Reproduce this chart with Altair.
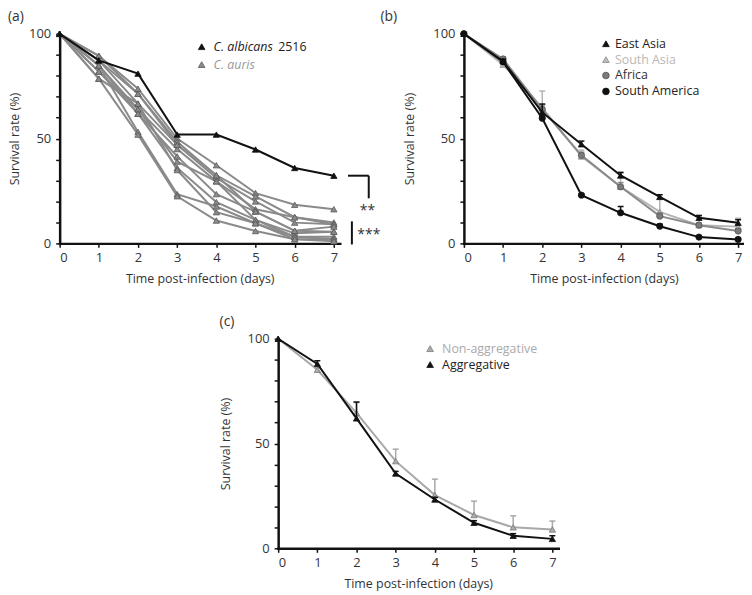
import altair as alt
import pandas as pd

# ---------------- data ----------------
days = [0, 1, 2, 3, 4, 5, 6, 7]

# panel (a)
albicans_2516 = [100, 87.3, 81.0, 51.9, 51.9, 44.8, 36.0, 32.3]
auris_strains = [
    [100, 89.5, 73.8, 50.0, 37.3, 24.0, 18.4, 16.3],
    [100, 89.5, 71.4, 48.5, 32.5, 22.4, 12.5, 10.0],
    [100, 87.3, 66.7, 47.0, 31.2, 20.0, 9.9, 9.1],
    [100, 84.9, 64.0, 45.0, 29.6, 16.3, 12.5, 9.1],
    [100, 84.9, 61.9, 41.5, 23.5, 15.2, 6.0, 8.0],
    [100, 82.0, 64.0, 39.0, 29.6, 11.2, 4.8, 5.6],
    [100, 82.0, 61.9, 36.0, 19.7, 11.2, 3.2, 3.2],
    [100, 78.6, 66.7, 35.0, 14.9, 9.6, 2.0, 2.0],
    [100, 84.9, 53.2, 23.5, 17.6, 9.6, 3.2, 2.0],
    [100, 78.6, 51.9, 22.5, 10.9, 5.9, 2.0, 1.0],
    [100, 87.3, 71.4, 47.0, 32.5, 15.2, 6.0, 5.6],
]

# panel (b)
east_asia = [100, 86.9, 62.5, 47.3, 32.4, 22.2, 12.2, 9.8]
east_asia_err = [0, 1.0, 4.0, 1.5, 1.5, 1.0, 1.0, 1.5]
south_asia = [100, 85.3, 64.7, 41.5, 27.0, 15.0, 8.7, 8.0]
south_asia_err = [0, 1.0, 8.0, 3.0, 6.5, 6.0, 5.0, 4.0]
africa = [100, 88.0, 64.0, 42.0, 27.0, 13.0, 8.7, 5.9]
africa_err = [0, 1.0, 2.0, 1.5, 2.0, 1.5, 1.0, 1.0]
south_america = [100, 86.6, 59.7, 23.0, 14.6, 8.2, 3.0, 1.9]
south_america_err = [0, 0.5, 1.0, 0.5, 3.0, 1.0, 0.5, 0.5]

# panel (c)
non_aggregative = [100, 85.2, 64.6, 41.6, 25.4, 15.9, 10.0, 9.0]
non_aggregative_err = [0, 1.0, 5.0, 5.7, 7.6, 6.6, 5.5, 4.0]
aggregative = [100, 88.0, 62.0, 35.7, 23.3, 12.2, 6.0, 4.5]
aggregative_err = [0, 1.5, 7.8, 1.0, 1.0, 1.0, 1.0, 1.5]

# ---------------- styling ----------------
FONT = "Open Sans"
W, H = 282, 211
X_DOMAIN = [0, 7.15]
ONE = pd.DataFrame({"k": [0]})
BLACK = "#111111"


def axes(title_x):
    xa = alt.Axis(values=days, title="Time post-infection (days)",
                  titlePadding=8, labelPadding=4)
    ya = alt.Axis(values=list(range(0, 101, 10)),
                  labelExpr="datum.value % 50 == 0 ? datum.label : ''",
                  title="Survival rate (%)", titleX=title_x, titleY=H / 2,
                  titleAngle=-90, titleBaseline="middle", titleAlign="center",
                  labelPadding=5)
    return xa, ya


def xy(xa, ya, yfield="value", xfield="day"):
    return dict(
        x=alt.X(f"{xfield}:Q", scale=alt.Scale(domain=X_DOMAIN, nice=False, zero=False), axis=xa),
        y=alt.Y(f"{yfield}:Q", scale=alt.Scale(domain=[0, 100], nice=False), axis=ya),
    )


def frame(values, errs=None, name="s"):
    d = pd.DataFrame({"day": days, "value": values, "series": name})
    if errs is not None:
        d["err"] = errs
        d["top"] = d["value"] + d["err"]
    return d


def series(df, xa, ya, line_color, fill, stroke, shape, err_color=None):
    layers = []
    if "err" in df.columns:
        e = df[df["err"] > 0]
        ec = err_color or line_color
        layers.append(alt.Chart(e).mark_rule(color=ec, strokeWidth=1.5).encode(
            **xy(xa, ya), y2=alt.Y2("top:Q")))
        enc = xy(xa, ya, yfield="top")
        layers.append(alt.Chart(e).mark_rule(color=ec, strokeWidth=1.5, xOffset=-3, x2Offset=3).encode(
            **enc, x2=alt.X2("day:Q")))
    layers.append(alt.Chart(df).mark_line(color=line_color, strokeWidth=2).encode(
        **xy(xa, ya), detail="series:N"))
    layers.append(alt.Chart(df).mark_point(shape=shape, filled=True, color=fill, stroke=stroke,
                                           strokeWidth=0.8, size=40, opacity=1).encode(**xy(xa, ya)))
    return layers


def txt(s, x, y, color, size=12.5, style="normal", align="left", baseline="middle"):
    return alt.Chart(ONE).mark_text(text=s, font=FONT, fontSize=size, fontStyle=style, color=color,
                                    align=align, baseline=baseline).encode(
        x=alt.value(x), y=alt.value(y))


def sym(shape, fill, stroke, x, y):
    return alt.Chart(ONE).mark_point(shape=shape, filled=True, color=fill, stroke=stroke,
                                     strokeWidth=0.8, size=45, opacity=1).encode(
        x=alt.value(x), y=alt.value(y))


# ---------------- panel (a) ----------------
xa, ya = axes(-45)
auris_df = pd.concat([frame(v, name=f"auris{i}") for i, v in enumerate(auris_strains)])
alb_df = frame(albicans_2516, name="albicans")
la = []
la += series(auris_df, xa, ya, "#8a8a8a", "#8c8c8c", "#5a5a5a", "triangle-up")
la += series(alb_df, xa, ya, BLACK, BLACK, BLACK, "triangle-up")
# significance brackets (in data units)
br_h = pd.DataFrame({"day": [7.36], "day2": [7.89], "value": [32.3]})
br_v = pd.DataFrame({"day": [7.89], "value": [32.3], "value2": [21.5]})
bar3 = pd.DataFrame({"day": [7.46], "value": [10.5], "value2": [-0.5]})
la.append(alt.Chart(br_h).mark_rule(color=BLACK, strokeWidth=2).encode(**xy(xa, ya), x2=alt.X2("day2:Q")))
la.append(alt.Chart(br_v).mark_rule(color=BLACK, strokeWidth=2).encode(**xy(xa, ya), y2=alt.Y2("value2:Q")))
la.append(alt.Chart(bar3).mark_rule(color=BLACK, strokeWidth=2).encode(**xy(xa, ya), y2=alt.Y2("value2:Q")))
la.append(alt.Chart(pd.DataFrame({"day": [7.66], "value": [15.5]})).mark_text(
    text="**", font=FONT, fontSize=14, color="#333", align="left", baseline="middle").encode(**xy(xa, ya)))
la.append(alt.Chart(pd.DataFrame({"day": [7.6], "value": [4.0]})).mark_text(
    text="***", font=FONT, fontSize=14, color="#333", align="left", baseline="middle").encode(**xy(xa, ya)))
# legend
la += [sym("triangle-up", BLACK, BLACK, 143, 13),
       txt("C. albicans", 155, 13, "#222", style="italic"),
       txt("2516", 220, 13, "#222"),
       sym("triangle-up", "#8c8c8c", "#5a5a5a", 143, 31),
       txt("C. auris", 155, 31, "#999999", style="italic"),
       txt("(a)", -52, -24, "#333", size=14, baseline="top")]
panel_a = alt.layer(*la).properties(width=W, height=H)

# ---------------- panel (b) ----------------
xb, yb = axes(-55)
lb = []
lb += series(frame(south_asia, south_asia_err, "sa"), xb, yb, "#b4b4b4", "#bdbdbd", "#8a8a8a", "triangle-up")
lb += series(frame(africa, africa_err, "af"), xb, yb, "#8a8a8a", "#7a7a7a", "#555555", "circle")
lb += series(frame(south_america, south_america_err, "sam"), xb, yb, BLACK, BLACK, BLACK, "circle")
lb += series(frame(east_asia, east_asia_err, "ea"), xb, yb, BLACK, BLACK, BLACK, "triangle-up")
lb += [sym("triangle-up", BLACK, BLACK, 143, 10), txt("East Asia", 152, 10, "#222"),
       sym("triangle-up", "#bdbdbd", "#8a8a8a", 143, 26), txt("South Asia", 152, 26, "#b8b8b8"),
       sym("circle", "#7a7a7a", "#555555", 143, 42), txt("Africa", 152, 42, "#333"),
       sym("circle", BLACK, BLACK, 143, 58), txt("South America", 152, 58, "#222"),
       txt("(b)", -84, -24, "#333", size=14, baseline="top")]
panel_b = alt.layer(*lb).properties(width=W, height=H)

# ---------------- panel (c) ----------------
xc, yc = axes(-53)
lc = []
lc += series(frame(non_aggregative, non_aggregative_err, "na"), xc, yc, "#a8a8a8", "#ababab", "#7a7a7a", "triangle-up")
lc += series(frame(aggregative, aggregative_err, "ag"), xc, yc, BLACK, BLACK, BLACK, "triangle-up")
lc += [sym("triangle-up", "#ababab", "#7a7a7a", 153, 10), txt("Non-aggregative", 165, 10, "#aaaaaa"),
       sym("triangle-up", BLACK, BLACK, 153, 26), txt("Aggregative", 165, 26, "#222"),
       txt("(c)", -59, -24, "#333", size=14, baseline="top")]
panel_c = alt.layer(*lc).properties(width=W, height=H)

spacer = alt.Chart(ONE).mark_point(opacity=0).encode(x=alt.value(0), y=alt.value(0)).properties(width=200, height=H)

top = alt.hconcat(panel_a, panel_b, spacing=125, bounds="flush")
bottom = alt.hconcat(spacer, panel_c, spacing=20, bounds="flush")
chart = alt.vconcat(top, bottom, spacing=30).properties(
    padding=0
).configure_view(stroke=None).configure_axis(
    grid=False, domainColor=BLACK, domainWidth=2.5, domainCap="square",
    tickColor=BLACK, tickWidth=1.5, tickSize=4,
    labelFont=FONT, labelFontSize=13, labelColor="#333",
    titleFont=FONT, titleFontSize=12.5, titleColor="#333", titleFontWeight="normal",
)

chart.save("out.html", embed_options={"renderer": "svg", "actions": False})
